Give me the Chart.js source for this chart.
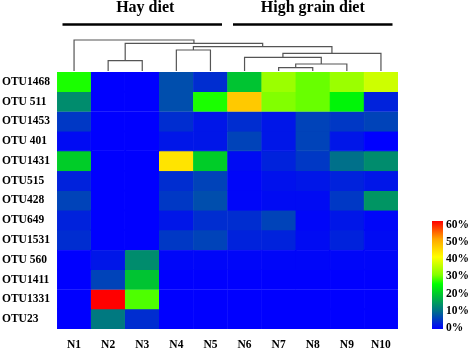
<!DOCTYPE html>
<html>
<head>
<meta charset="utf-8">
<script src="https://cdn.jsdelivr.net/npm/chart.js@4"></script>
<style>
  html, body { margin: 0; padding: 0; background: #fff; }
  #wrap { width: 472px; height: 349px; position: relative; }
</style>
</head>
<body>
<div id="wrap"><canvas id="heatChart" width="472" height="349"></canvas></div>
<script>
// samples (columns) and OTUs (rows, top to bottom)
var samples = ['N1', 'N2', 'N3', 'N4', 'N5', 'N6', 'N7', 'N8', 'N9', 'N10'];
var otus = ['OTU1468', 'OTU 511', 'OTU1453', 'OTU 401', 'OTU1431', 'OTU515', 'OTU428',
            'OTU649', 'OTU1531', 'OTU 560', 'OTU1411', 'OTU1331', 'OTU23'];

// relative abundance (%), one array per OTU row
var otu1468 = [26, 0, 0, 7, 4, 19, 32, 29, 32, 36];
var otu511  = [13, 0, 0, 7, 26, 46, 30, 29, 24, 3];
var otu1453 = [5, 0, 0, 4, 2, 4, 2, 6, 5, 6];
var otu401  = [1, 0, 0, 2, 2, 6, 2, 6, 2, 0];
var otu1431 = [20, 0, 0, 43, 20, 1, 3, 5, 10, 13];
var otu515  = [3, 0, 0, 4, 6, 0.5, 1.5, 2, 3, 2];
var otu428  = [6, 0, 0, 5, 7, 0.5, 1, 1, 5, 14];
var otu649  = [3, 0, 0, 2, 4, 4, 6, 0.5, 2, 0.5];
var otu1531 = [4, 0, 0, 5, 6, 3, 3, 1, 3, 1];
var otu560  = [0, 2, 13, 0.5, 0.5, 0.5, 0.5, 0.5, 0.5, 0.5];
var otu1411 = [0, 6, 19, 0, 0, 0, 0, 0, 0, 0];
var otu1331 = [0, 60, 28, 0, 0, 0, 0, 0, 0, 0];
var otu23   = [0, 11, 4, 0, 0, 0, 0, 0, 0, 0];
var abundance = [otu1468, otu511, otu1453, otu401, otu1431, otu515, otu428,
                 otu649, otu1531, otu560, otu1411, otu1331, otu23];

// sample dendrogram: [left node, right node, height]; leaves 0-9, merge i becomes node 10+i
var dendroMerges = [
    [6, 7, 3.3],
    [10, 8, 7],
    [1, 2, 10.3],
    [5, 11, 13.7],
    [13, 9, 17.7],
    [3, 4, 21],
    [15, 14, 24.3],
    [12, 16, 27.7],
    [0, 17, 31]
];

// diet groups over the columns
var groupNames = ['Hay diet', 'High grain diet'];
var groupRanges = [[0, 4], [5, 9]];

// colour scale legend
var scaleTicks = ['60%', '50%', '40%', '30%', '20%', '10%', '0%'];
var scaleMax = 60;
var colorStops = [
    [0, [0, 0, 255]],
    [10, [0, 112, 138]],
    [20, [0, 205, 40]],
    [25, [0, 255, 0]],
    [30, [130, 255, 0]],
    [40, [255, 255, 0]],
    [50, [255, 165, 0]],
    [60, [255, 0, 0]]
];

function valueColor(v) {
    if (v <= colorStops[0][0]) return 'rgb(' + colorStops[0][1].join(',') + ')';
    for (var i = 1; i < colorStops.length; i++) {
        if (v <= colorStops[i][0]) {
            var a = colorStops[i - 1], b = colorStops[i];
            var t = (v - a[0]) / (b[0] - a[0]);
            var c = a[1].map(function(x, k) { return Math.round(x + (b[1][k] - x) * t); });
            return 'rgb(' + c.join(',') + ')';
        }
    }
    return 'rgb(' + colorStops[colorStops.length - 1][1].join(',') + ')';
}

var serif = "'Liberation Serif', 'Times New Roman', serif";

// one stacked dataset per OTU row, each cell one unit tall
var datasets = abundance.map(function(row, r) {
    var colors = row.map(valueColor);
    return {
        label: otus[r],
        data: row.map(function() { return 1; }),
        backgroundColor: colors,
        borderColor: colors,
        borderWidth: 0.6,
        borderSkipped: false,
        barPercentage: 1,
        categoryPercentage: 1
    };
});

var extrasPlugin = {
    id: 'extras',
    afterDraw: function(chart) {
        var ctx = chart.ctx;
        var x = chart.scales.x;
        var area = chart.chartArea;
        var colW = (area.right - area.left) / samples.length;

        // dendrogram
        var nodeX = samples.map(function(s, i) { return x.getPixelForValue(i); });
        var nodeH = samples.map(function() { return 0; });
        var base = area.top - 1;
        var maxH = dendroMerges[dendroMerges.length - 1][2];
        var k = (base - 40) / maxH;
        ctx.save();
        ctx.strokeStyle = '#555';
        ctx.lineWidth = 1.2;
        dendroMerges.forEach(function(m) {
            var a = m[0], b = m[1], h = m[2];
            var yh = base - h * k;
            ctx.beginPath();
            ctx.moveTo(nodeX[a], base - nodeH[a] * k);
            ctx.lineTo(nodeX[a], yh);
            ctx.lineTo(nodeX[b], yh);
            ctx.lineTo(nodeX[b], base - nodeH[b] * k);
            ctx.stroke();
            nodeX.push((nodeX[a] + nodeX[b]) / 2);
            nodeH.push(h);
        });

        // group bars and titles
        ctx.strokeStyle = '#000';
        ctx.fillStyle = '#000';
        ctx.lineWidth = 2.5;
        ctx.font = 'bold 16px ' + serif;
        ctx.textAlign = 'center';
        ctx.textBaseline = 'alphabetic';
        groupRanges.forEach(function(g, i) {
            var x0 = x.getPixelForValue(g[0]) - colW / 2 + 5.5;
            var x1 = x.getPixelForValue(g[1]) + colW / 2 - 5.5;
            ctx.beginPath();
            ctx.moveTo(x0, 24.5);
            ctx.lineTo(x1, 24.5);
            ctx.stroke();
            ctx.fillText(groupNames[i], (x0 + x1) / 2 + (i === 0 ? 3 : 0), 12);
        });

        // colour scale
        var cbL = 432, cbR = 443, cbT = 221, cbB = 329;
        var grad = ctx.createLinearGradient(0, cbB, 0, cbT);
        colorStops.forEach(function(s) {
            grad.addColorStop(s[0] / scaleMax, 'rgb(' + s[1].join(',') + ')');
        });
        ctx.fillStyle = grad;
        ctx.fillRect(cbL, cbT, cbR - cbL, cbB - cbT);
        ctx.fillStyle = '#000';
        ctx.font = 'bold 11.5px ' + serif;
        ctx.textAlign = 'left';
        ctx.textBaseline = 'middle';
        scaleTicks.forEach(function(t, i) {
            var ty = cbT + 4 + i * (cbB - cbT - 5) / (scaleTicks.length - 1);
            ctx.fillText(t, cbL + 14, ty);
        });
        ctx.restore();
    }
};

new Chart(document.getElementById('heatChart'), {
    type: 'bar',
    data: { labels: samples, datasets: datasets },
    options: {
        responsive: false,
        animation: false,
        layout: { padding: { top: 72, right: 74, left: 2, bottom: 0 } },
        plugins: { legend: { display: false }, tooltip: { enabled: false } },
        scales: {
            x: {
                stacked: true,
                grid: { display: false, drawTicks: false },
                border: { display: false },
                ticks: { color: '#000', font: { family: serif, size: 11.5, weight: 'bold' }, padding: 9 },
                afterFit: function(s) { s.height = 20; }
            },
            y: {
                stacked: true,
                display: false,
                reverse: true,
                min: 0,
                max: otus.length
            },
            rows: {
                type: 'category',
                position: 'left',
                labels: otus,
                offset: true,
                grid: { display: false, drawTicks: false },
                border: { display: false },
                ticks: { color: '#000', crossAlign: 'far', font: { family: serif, size: 11.5, weight: 'bold' } },
                afterFit: function(s) { s.width = 55; }
            }
        }
    },
    plugins: [extrasPlugin]
});
</script>
</body>
</html>
